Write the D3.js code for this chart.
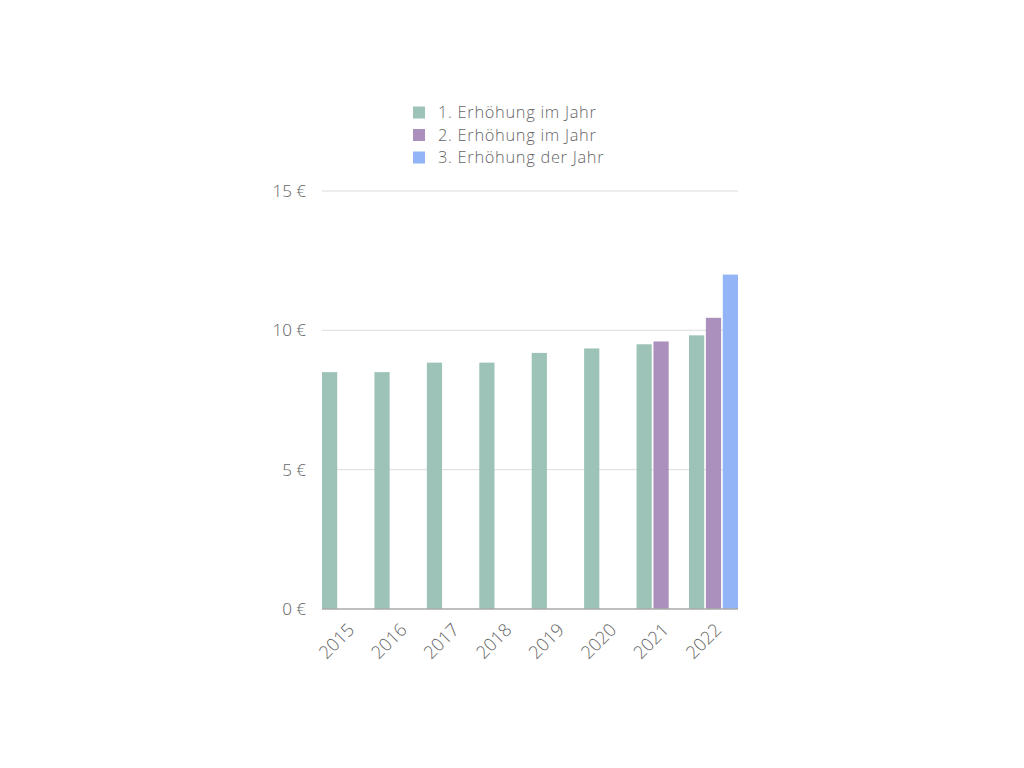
<!DOCTYPE html>
<html>
<head>
  <meta charset="utf-8">
  <script src="https://d3js.org/d3.v7.min.js"></script>
  <style>
    body { margin: 0; background: #fff; }
    text { font-family: "Open Sans Light", "Open Sans", sans-serif; font-weight: 300; fill: #666; }
  </style>
</head>
<body>
<script type="text/javascript">

  var years = ["2015", "2016", "2017", "2018", "2019", "2020", "2021", "2022"];
  var series_names = ["1. Erhöhung im Jahr", "2. Erhöhung im Jahr", "3. Erhöhung der Jahr"];
  var first_raise  = [8.50, 8.50, 8.84, 8.84, 9.19, 9.35, 9.50, 9.82];
  var second_raise = [0, 0, 0, 0, 0, 0, 9.60, 10.45];
  var third_raise  = [0, 0, 0, 0, 0, 0, 0, 12.00];
  var y_ticks = [0, 5, 10, 15];
  var colors = ["#9dc3b9", "#ab8fbc", "#94b4f8"];

  var series = [first_raise, second_raise, third_raise];

  var w = 1024, h = 768;
  var margin = {top: 191, right: 286, bottom: 159, left: 322},
      width = w - margin.left - margin.right,
      height = h - margin.top - margin.bottom;

  var svg = d3.select("body").append("svg")
      .attr("width", w).attr("height", h);

  var g = svg.append("g")
      .attr("transform", "translate(" + margin.left + "," + margin.top + ")");

  var x0 = d3.scaleBand().domain(years).range([0, width])
      .paddingInner(0.065).paddingOuter(0);
  var x1 = d3.scaleBand().domain([0, 1, 2]).range([0, x0.bandwidth()])
      .paddingInner(0.1);
  var y = d3.scaleLinear().domain([0, 15]).range([height, 0]);

  // gridlines + y labels
  g.selectAll("line.grid")
    .data(y_ticks.filter(function(d) { return d > 0; }))
    .enter().append("line")
    .attr("class", "grid")
    .attr("x1", 0).attr("x2", width)
    .attr("y1", function(d) { return y(d); })
    .attr("y2", function(d) { return y(d); })
    .attr("stroke", "#dcdcdc").attr("stroke-width", 1);

  g.selectAll("text.ylab")
    .data(y_ticks).enter().append("text")
    .attr("class", "ylab")
    .attr("x", -16)
    .attr("y", function(d) { return y(d); })
    .attr("dy", "0.35em")
    .attr("text-anchor", "end")
    .style("font-size", "17px")
    .text(function(d) { return d + " €"; });

  // bars
  var groups = g.selectAll("g.year")
    .data(years).enter().append("g")
    .attr("class", "year")
    .attr("transform", function(d) { return "translate(" + x0(d) + ",0)"; });

  groups.selectAll("rect")
    .data(function(d, i) {
      return series.map(function(s, k) { return {k: k, v: s[i]}; })
                   .filter(function(e) { return e.v > 0; });
    })
    .enter().append("rect")
    .attr("x", function(d) { return x1(d.k); })
    .attr("width", x1.bandwidth())
    .attr("y", function(d) { return y(d.v); })
    .attr("height", function(d) { return height - y(d.v); })
    .attr("fill", function(d) { return colors[d.k]; });

  // baseline
  g.append("line")
    .attr("x1", 0).attr("x2", width)
    .attr("y1", height).attr("y2", height)
    .attr("stroke", "#aaaaaa").attr("stroke-width", 1.5);

  // x labels
  g.selectAll("text.xlab")
    .data(years).enter().append("text")
    .attr("class", "xlab")
    .attr("text-anchor", "end")
    .style("font-size", "18px")
    .attr("transform", function(d) {
      var cx = x0(d) + x0.bandwidth() / 2 + 9;
      return "translate(" + cx + "," + (height + 22) + ") rotate(-45)";
    })
    .text(function(d) { return d; });

  // legend
  var legend = svg.append("g").attr("class", "legend")
    .attr("transform", "translate(413,112.5)");

  legend.selectAll("rect")
    .data(series_names).enter().append("rect")
    .attr("x", 0)
    .attr("y", function(d, i) { return i * 22.5 - 6; })
    .attr("width", 12).attr("height", 12)
    .attr("fill", function(d, i) { return colors[i]; });

  legend.selectAll("text")
    .data(series_names).enter().append("text")
    .attr("x", 25)
    .attr("y", function(d, i) { return i * 22.5; })
    .attr("dy", "0.35em")
    .style("font-size", "16.4px")
    .style("letter-spacing", "0.7px")
    .text(function(d) { return d; });

</script>
</body>
</html>
